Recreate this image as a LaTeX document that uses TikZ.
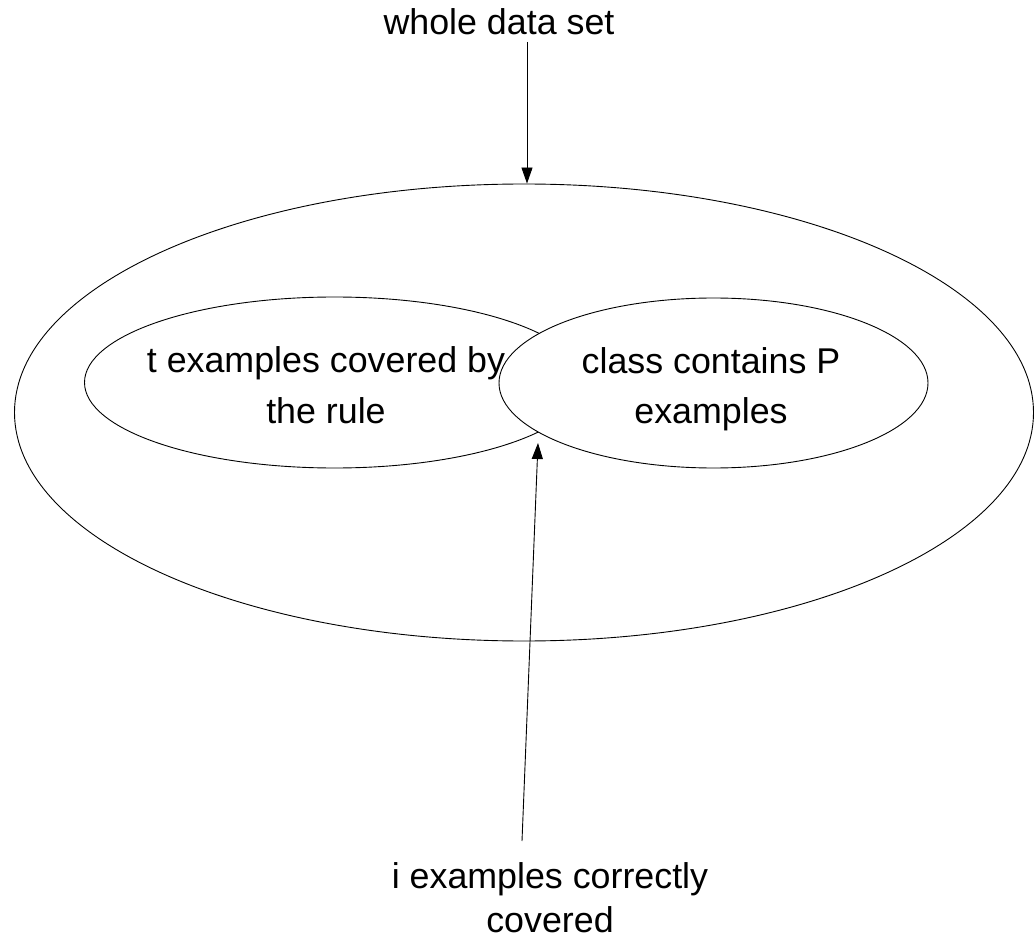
\documentclass[tikz,border=0pt]{standalone}
\usepackage{fontspec}
\setmainfont{Liberation Sans}
\usetikzlibrary{shapes.geometric,arrows.meta}
\begin{document}
\begin{tikzpicture}[x=1pt,y=-1pt,
  ell/.style={ellipse,draw,line width=0.9pt,inner sep=0pt},
  lbl/.style={align=center,inner sep=0pt,font=\fontsize{35.8}{51}\selectfont},
  arr/.style={line width=0.9pt,-{Triangle[length=16pt,width=11pt]}}]
\useasboundingbox (0,0) rectangle (1034,941);
\node[ell,minimum width=1019pt,minimum height=457pt] (outer) at (524,412.5) {};
\node[ell,minimum width=500pt,minimum height=171pt] (left) at (334.5,382.5) {};
\node[lbl,anchor=base] (ltext) at (326,423) {t examples covered by\\the rule};
\node[ell,fill=white,minimum width=429pt,minimum height=170pt] (right) at (713.5,383) {};
\node[lbl,anchor=base] (rtext) at (711,424) {class contains P\\examples};
\node[lbl,anchor=base] (whole) at (499,35) {whole data set};
\node[lbl,anchor=base,font=\fontsize{35.8}{44}\selectfont] (icorr) at (550,932) {i examples correctly\\covered};
\coordinate (a1) at (527,42);
\draw[arr] (a1) -- (a1 |- outer.north);
\coordinate (b1) at (522,841);
\coordinate (b2) at (538,443);
\draw[arr] (b1) -- (b2);
\end{tikzpicture}
\end{document}
